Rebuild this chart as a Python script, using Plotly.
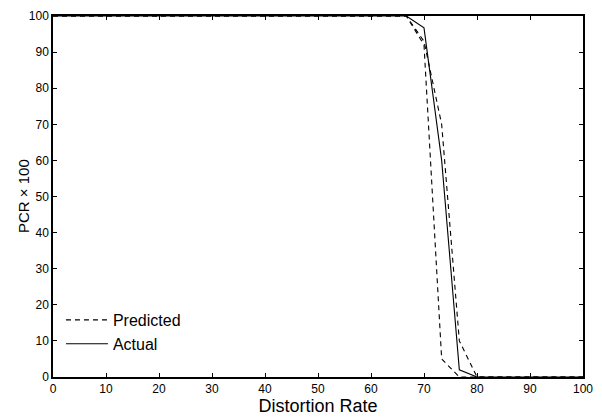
import plotly.graph_objects as go

x_vals = [round(i * 100 / 30, 3) for i in range(31)]
# Actual PCR x 100
actual = [100]*21 + [96.7, 60, 2, 0] + [0]*6
# Predicted band (two dashed bounds)
pred_low = [100]*21 + [92, 5, 0, 0] + [0]*6
pred_high = [100]*21 + [93, 70, 10, 0] + [0]*6

font_family = "Liberation Sans, Arial, Helvetica, sans-serif"

fig = go.Figure()
fig.add_trace(go.Scatter(x=x_vals, y=pred_low, mode="lines", name="Predicted",
                         line=dict(color="black", width=1.1, dash="5px,4px"),
                         legendgroup="p"))
fig.add_trace(go.Scatter(x=x_vals, y=pred_high, mode="lines", name="Predicted",
                         line=dict(color="black", width=1.1, dash="5px,4px"),
                         legendgroup="p", showlegend=False))
fig.add_trace(go.Scatter(x=x_vals, y=actual, mode="lines", name="Actual",
                         line=dict(color="black", width=1.1)))

axis_common = dict(showgrid=False, zeroline=False, showline=True, linecolor="black",
                   linewidth=1.5, mirror="allticks", ticks="inside", ticklen=4,
                   tickcolor="black", tickwidth=1,
                   tickfont=dict(family=font_family, size=12, color="black"))

fig.update_xaxes(range=[0, 100], dtick=10, tick0=0,
                 title=dict(text="Distortion Rate", font=dict(family=font_family, size=18, color="black"),
                            standoff=2),
                 **axis_common)
fig.update_yaxes(range=[0, 100], dtick=10, tick0=0, **axis_common)

fig.add_annotation(text="PCR \u00d7 100", textangle=-90, xref="paper", yref="paper",
                   x=-0.0556, y=0.5, xanchor="center", yanchor="middle", showarrow=False,
                   font=dict(family=font_family, size=15, color="black"))

fig.update_layout(
    width=602, height=420,
    margin=dict(l=53, r=9, t=10, b=40),
    plot_bgcolor="white", paper_bgcolor="white",
    font=dict(family=font_family, color="black"),
    legend=dict(x=0.015, y=0.205, xanchor="left", yanchor="top",
                bgcolor="rgba(0,0,0,0)", borderwidth=0, itemwidth=42,
                font=dict(family=font_family, size=16, color="black"),
                tracegroupgap=0),
)

fig.write_html("out.html")
